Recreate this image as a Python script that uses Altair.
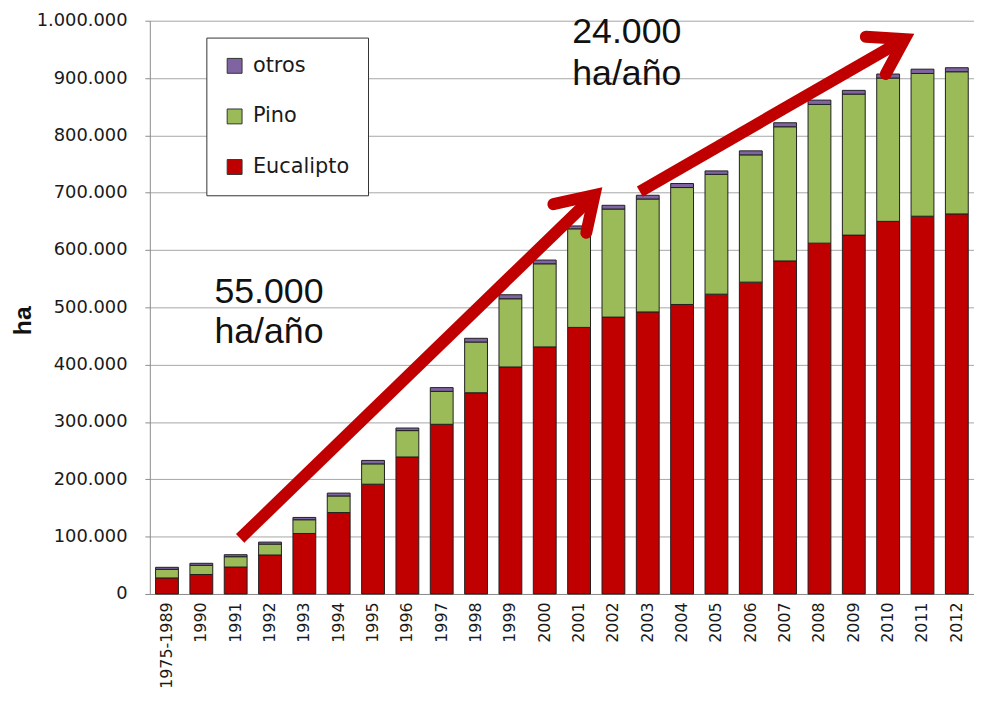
import altair as alt
import pandas as pd

# ---------------- data ----------------
years = ["1975-1989", "1990", "1991", "1992", "1993", "1994", "1995", "1996",
         "1997", "1998", "1999", "2000", "2001", "2002", "2003", "2004",
         "2005", "2006", "2007", "2008", "2009", "2010", "2011", "2012"]
eucalipto = [28000, 34000, 47000, 68000, 105500, 142000, 191500, 239000,
             296000, 351000, 396000, 431000, 465000, 483000, 492000, 505000,
             523000, 544000, 581000, 612000, 626000, 650000, 659000, 663000]
pino = [15000, 16000, 18000, 19000, 24000, 29000, 35500, 46000,
        57500, 88500, 119000, 145000, 172000, 188500, 197000, 204000,
        209000, 222000, 234000, 242000, 246000, 250000, 249000, 248000]
otros = [3500, 3500, 3500, 3500, 4000, 5000, 6000, 4500,
         6500, 6500, 7000, 6500, 5000, 6500, 6500, 7000,
         6000, 7000, 7000, 7500, 6500, 7000, 7500, 7000]

series_names = ["otros", "Pino", "Eucalipto"]
series_colors = ["#8064A2", "#9BBB59", "#C00000"]

# annotation texts (position in category-index units and ha)
note_text = ["55.000", "ha/año", "24.000", "ha/año"]
note_u = [1.88, 1.88, 12.30, 12.30]
note_v = [508000, 437000, 962000, 888000]

# arrows: shaft and chevron head (category-index units, ha)
shaft_grp = ["a1", "a1", "a2", "a2"]
shaft_u = [2.63, 12.95, 14.27, 21.98]
shaft_v = [97000, 696000, 702000, 968000]
head_grp = ["a1", "a1", "a1", "a2", "a2", "a2"]
head_u = [11.75, 12.95, 12.71, 20.85, 21.98, 21.43]
head_v = [680000, 696000, 630000, 972000, 968000, 907000]

# ---------------- tables ----------------
rows = []
for i, yr in enumerate(years):
    rows.append({"year": yr, "serie": "Eucalipto", "ha": eucalipto[i], "orden": 0})
    rows.append({"year": yr, "serie": "Pino", "ha": pino[i], "orden": 1})
    rows.append({"year": yr, "serie": "otros", "ha": otros[i], "orden": 2})
bars_df = pd.DataFrame(rows)

notes_df = pd.DataFrame({"u": note_u, "ha": note_v, "t": note_text})
shaft_df = pd.DataFrame({"u": shaft_u, "ha": shaft_v, "g": shaft_grp,
                         "i": list(range(len(shaft_u)))})
head_df = pd.DataFrame({"u": head_u, "ha": head_v, "g": head_grp,
                        "i": list(range(len(head_u)))})

yscale = alt.Scale(domain=[0, 1000000], nice=False, zero=True)
uscale = alt.Scale(domain=[0, 24], nice=False, zero=False)

yaxis = alt.Axis(values=list(range(0, 1000001, 100000)),
                 labelExpr="replace(replace(format(datum.value, ','), ',', '.'), ',', '.')",
                 labelFont="DejaVu Sans", labelFontSize=18,
                 labelColor="#1a1a1a", labelPadding=18,
                 tickSize=5, tickColor="#8c8c8c",
                 grid=True, gridColor="#a6a6a6", gridWidth=1,
                 domainColor="#8c8c8c",
                 title="ha", titleFont="Liberation Sans", titleFontSize=25,
                 titleFontWeight="bold", titleColor="#111111",
                 titleAngle=270, titleX=-128, titleY=302,
                 titleAlign="center", titleBaseline="middle")


def ych(stack=None):
    if stack:
        return alt.Y("ha:Q", stack=stack, scale=yscale, axis=yaxis, title="ha")
    return alt.Y("ha:Q", scale=yscale, axis=yaxis, title="ha")


bars = alt.Chart(bars_df).mark_bar(stroke="#1f1f1f", strokeWidth=1).encode(
    x=alt.X("year:N", sort=years,
            scale=alt.Scale(paddingInner=0.335, paddingOuter=0.1675),
            axis=alt.Axis(title=None, labelAngle=270, labelFont="DejaVu Sans",
                          labelFontSize=16, labelColor="#1a1a1a", labelPadding=8,
                          ticks=False, domainColor="#8c8c8c", grid=False)),
    y=ych("zero"),
    color=alt.Color("serie:N",
                    scale=alt.Scale(domain=series_names, range=series_colors),
                    legend=alt.Legend(title=None, orient="none", legendX=57, legendY=17,
                                      direction="vertical",
                                      labelFont="DejaVu Sans", labelFontSize=21,
                                      labelColor="#1a1a1a", labelOffset=8,
                                      symbolType="square", symbolSize=225,
                                      symbolStrokeColor="#333333", symbolStrokeWidth=1,
                                      fillColor="white", strokeColor="#333333",
                                      padding=18, rowPadding=29, cornerRadius=0)),
    order=alt.Order("orden:Q", sort="ascending"),
)

shafts = alt.Chart(shaft_df).mark_line(color="#C00000", strokeWidth=12,
                                       strokeCap="butt").encode(
    x=alt.X("u:Q", scale=uscale, axis=None),
    y=ych(),
    detail="g:N",
    order="i:Q",
)

heads = alt.Chart(head_df).mark_line(color="#C00000", strokeWidth=12,
                                     strokeCap="round", strokeJoin="miter",
                                     strokeMiterLimit=10).encode(
    x=alt.X("u:Q", scale=uscale, axis=None),
    y=ych(),
    detail="g:N",
    order="i:Q",
)

notes = alt.Chart(notes_df).mark_text(align="left", baseline="alphabetic",
                                      font="Liberation Sans", fontSize=36,
                                      color="#111111").encode(
    x=alt.X("u:Q", scale=uscale, axis=None),
    y=ych(),
    text="t:N",
)

chart = alt.layer(bars, shafts, heads, notes).resolve_scale(
    x="independent"
).properties(
    width=831, height=578,
    autosize=alt.AutoSizeParams(type="none"),
    padding={"left": 143, "top": 10, "right": 0, "bottom": 95},
    background="white",
).configure_view(stroke=None)

chart.save("out.html", embed_options={"renderer": "svg", "actions": False})
